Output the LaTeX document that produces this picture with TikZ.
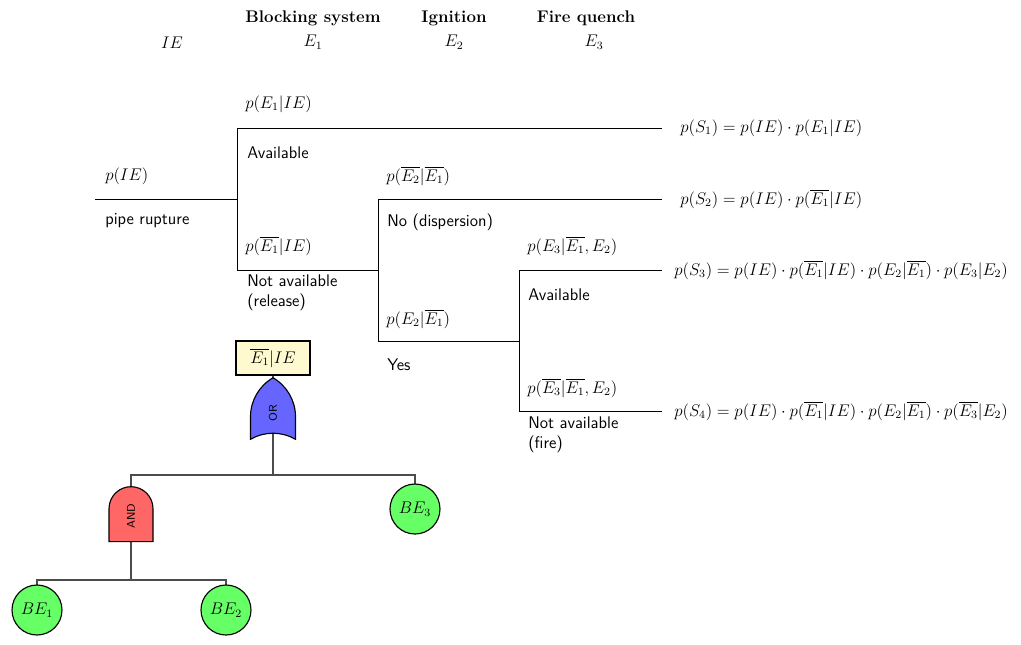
\documentclass[tikz,border=0pt,12pt]{standalone}
\usetikzlibrary{circuits.logic.US}

\definecolor{boxyellow}{HTML}{FFF9CF}
\definecolor{orblue}{HTML}{6666FF}
\definecolor{andred}{HTML}{FF6666}
\definecolor{begreen}{HTML}{66FF66}

\tikzset{
    branch/.style={draw=black, line width=0.6pt},
    prob/.style={anchor=west, inner sep=0pt},
    state/.style={anchor=west, inner sep=0pt, align=left, font=\sffamily},
    outcome/.style={anchor=west, inner sep=0pt, font=\fontsize{11.5}{13}\selectfont},
    header/.style={inner sep=0pt, align=center},
    ftline/.style={draw=black!70, line width=1.6pt},
    topevent/.style={draw, thick, fill=boxyellow, minimum width=1.85cm, minimum height=0.85cm},
    orgate/.style={or gate US, draw, thick, fill=orblue, rotate=90, minimum width=1.475cm, minimum height=1.125cm, font=\scriptsize\sffamily},
    andgate/.style={and gate US, draw, thick, fill=andred, rotate=90, minimum width=1.35cm, minimum height=1.1cm, font=\scriptsize\sffamily},
    basic/.style={circle, draw, thick, fill=begreen, minimum size=1.25cm, inner sep=0pt},
}

\begin{document}
\begin{tikzpicture}
    \useasboundingbox (0,0) rectangle (25.525,-16.1);

    % headers
    \node[header] (hIE) at (4.3,-1.075) {$IE$};
    \node[header] (hblock) at (7.825,-0.45) {\textbf{Blocking system}};
    \node[header] (hE1) at (7.825,-1.05) {$E_1$};
    \node[header] (hign) at (11.35,-0.45) {\textbf{Ignition}};
    \node[header] (hE2) at (11.35,-1.05) {$E_2$};
    \node[header] (hfire) at (14.65,-0.45) {\textbf{Fire quench}};
    \node[header] (hE3) at (14.85,-1.05) {$E_3$};

    % event tree
    \coordinate (ie) at (2.375,-4.975);
    \coordinate (n1) at (5.925,-4.975);
    \coordinate (n2) at (9.45,-6.75);
    \coordinate (n3) at (12.975,-8.525);
    \coordinate (s1) at (16.55,-3.2);
    \coordinate (s2) at (16.55,-4.975);
    \coordinate (s3) at (16.55,-6.75);
    \coordinate (s4) at (16.55,-10.275);

    \draw[branch] (ie) -- (n1);
    \draw[branch] (n1) |- (s1);
    \draw[branch] (n1) |- (n2);
    \draw[branch] (n2) |- (s2);
    \draw[branch] (n2) |- (n3);
    \draw[branch] (n3) |- (s3);
    \draw[branch] (n3) |- (s4);

    \node[prob] (pIE) at (2.625,-4.4) {$p(IE)$};
    \node[state] (rupture) at (2.625,-5.525) {pipe rupture};
    \node[prob] (pE1) at (6.125,-2.6) {$p(E_1|IE)$};
    \node[state] (avail1) at (6.175,-3.825) {Available};
    \node[prob] (pnE1) at (6.125,-6.15) {$p(\overline{E_1}|IE)$};
    \node[state] (release) at (6.175,-7.325) {Not available\\(release)};
    \node[prob] (pnE2) at (9.65,-4.4) {$p(\overline{E_2}|\overline{E_1})$};
    \node[state] (disp) at (9.675,-5.55) {No (dispersion)};
    \node[prob] (pE2) at (9.65,-7.975) {$p(E_2|\overline{E_1})$};
    \node[state] (yes) at (9.675,-9.125) {Yes};
    \node[prob] (pE3) at (13.175,-6.15) {$p(E_3|\overline{E_1},E_2)$};
    \node[state] (avail3) at (13.2,-7.375) {Available};
    \node[prob] (pnE3) at (13.175,-9.7) {$p(\overline{E_3}|\overline{E_1},E_2)$};
    \node[state] (fire) at (13.2,-10.875) {Not available\\(fire)};

    \node[outcome] (oS1) at (17.0,-3.2) {$p(S_1)=p(IE)\cdot p(E_1|IE)$};
    \node[outcome] (oS2) at (17.0,-4.975) {$p(S_2)=p(IE)\cdot p(\overline{E_1}|IE)$};
    \node[outcome] (oS3) at (16.85,-6.75) {$p(S_3)=p(IE)\cdot p(\overline{E_1}|IE)\cdot p(E_2|\overline{E_1})\cdot p(E_3|E_2)$};
    \node[outcome] (oS4) at (16.85,-10.275) {$p(S_4)=p(IE)\cdot p(\overline{E_1}|IE)\cdot p(E_2|\overline{E_1})\cdot p(\overline{E_3}|E_2)$};

    % fault tree
    \coordinate (j1) at (6.825,-11.875);
    \coordinate (j2) at (3.275,-14.5);
    \draw[ftline] (6.825,-8.95) -- (j1);
    \draw[ftline] (3.275,-12.9) -- (3.275,-11.875) -- (10.375,-11.875) -- (10.375,-12.725);
    \draw[ftline] (j2) -- (3.275,-12.9);
    \draw[ftline] (0.925,-15.25) -- (0.925,-14.5) -- (5.65,-14.5) -- (5.65,-15.25);

    \node[topevent] (top) at (6.825,-8.95) {$\overline{E_1}|IE$};
    \node[orgate] (or) at (6.825,-10.325) {OR};
    \node[andgate] (and) at (3.275,-12.9) {AND};
    \node[basic] (be1) at (0.925,-15.25) {$BE_1$};
    \node[basic] (be2) at (5.65,-15.25) {$BE_2$};
    \node[basic] (be3) at (10.375,-12.725) {$BE_3$};
\end{tikzpicture}
\end{document}
